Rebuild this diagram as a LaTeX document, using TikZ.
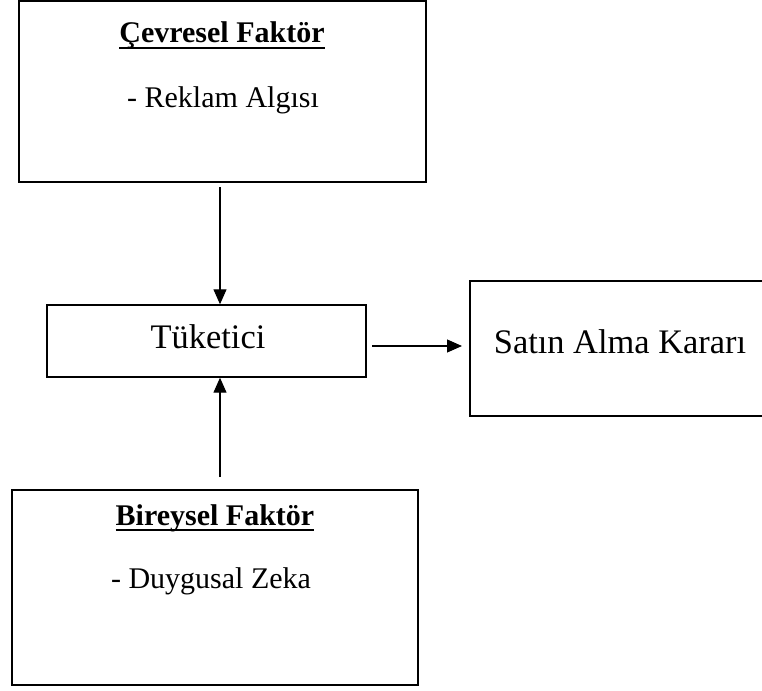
\documentclass[tikz,border=0pt]{standalone}
\usepackage{fontspec}
\setmainfont{Liberation Serif}
\usetikzlibrary{arrows.meta}
\begin{document}
\begin{tikzpicture}[x=1pt,y=-1pt,
  box/.style={draw, line width=1.4pt, inner sep=0pt},
  arr/.style={line width=1.2pt, -{Triangle[length=15pt,width=13pt]}},
  lab/.style={inner sep=0pt, anchor=base, font=\fontsize{30}{36}\selectfont},
  blab/.style={inner sep=0pt, anchor=base, font=\fontsize{30}{36}\selectfont\bfseries},
  big/.style={inner sep=0pt, anchor=base, font=\fontsize{34.4}{40}\selectfont},
  uline/.style={line width=1.6pt}]
\useasboundingbox (0,0) rectangle (762,690);
% boxes
\node[box, minimum width=407pt, minimum height=181pt] (env) at (222.5,91.5) {};
\node[box, minimum width=319pt, minimum height=72pt] (tuk) at (206.5,341) {};
\node[box, minimum width=310pt, minimum height=135pt] (sat) at (625,348.5) {};
\node[box, minimum width=406pt, minimum height=195pt] (bir) at (215,587.5) {};
% texts
\node[blab] (envt) at (222,43) {Çevresel Faktör};
\draw[uline] ([yshift=-5pt]envt.base west) -- ([yshift=-5pt]envt.base east);
\node[lab] (envs) at (223,108) {- Reklam Algısı};
\node[big] (tukt) at (208,348) {Tüketici};
\node[big] (satt) at (620,353) {Satın Alma Kararı};
\node[blab] (birt) at (215,525) {Bireysel Faktör};
\draw[uline] ([yshift=-5pt]birt.base west) -- ([yshift=-5pt]birt.base east);
\node[lab] (birs) at (211,588) {- Duygusal Zeka};
% arrows
\coordinate (a1s) at (220,187);
\draw[arr] (a1s) -- (a1s |- tuk.north);
\coordinate (a2s) at (220,477);
\draw[arr] (a2s) -- (a2s |- tuk.south);
\coordinate (a3s) at (372,346);
\coordinate (a3e) at (462,346);
\draw[arr] (a3s) -- (a3e);
\end{tikzpicture}
\end{document}
